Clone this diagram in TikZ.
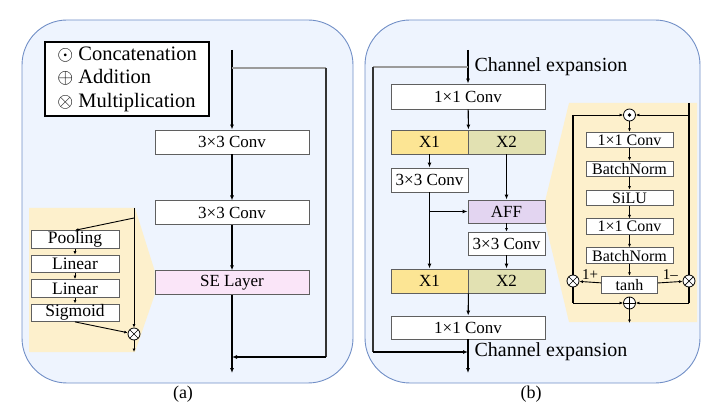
\RequirePackage{fix-cm}
\documentclass[tikz,border=0pt]{standalone}
\usepackage{fontspec}
\setmainfont{Liberation Serif}
\usepackage{tikz}
\usetikzlibrary{positioning, calc, arrows.meta, backgrounds}

\definecolor{panelBlue}{RGB}{238,244,254}
\definecolor{panelEdge}{RGB}{112,142,198}
\definecolor{detailTan}{RGB}{253,240,204}
\definecolor{sePink}{RGB}{250,229,248}
\definecolor{xOneYellow}{RGB}{252,229,148}
\definecolor{xTwoOlive}{RGB}{226,225,178}
\definecolor{affViolet}{RGB}{227,213,241}
\definecolor{boxEdge}{RGB}{95,95,95}
\definecolor{skipGray}{RGB}{155,155,155}

\begin{document}
\begin{tikzpicture}[
    x=1pt, y=-1pt,
    line width=1.1pt,
    >={Latex[length=5pt,width=4pt]},
    panel/.style={draw=panelEdge, fill=panelBlue, line width=0.9pt, rounded corners=45pt},
    block/.style={rectangle, draw=boxEdge, fill=white, line width=0.9pt, inner sep=0pt,
                  minimum width=154pt, minimum height=24pt, font=\fontsize{17}{19}\selectfont},
    halfblock/.style={block, minimum width=77pt},
    sebox/.style={block, minimum width=88pt, minimum height=17.5pt, font=\fontsize{17.5}{19}\selectfont},
    affbox/.style={block, minimum width=87pt, minimum height=15.5pt, font=\fontsize{16}{17}\selectfont},
    opnode/.style={circle, draw, fill=white, line width=0.8pt, minimum size=12pt, inner sep=0pt},
    mulop/.style={opnode, path picture={\draw[line width=0.7pt]
        (path picture bounding box.north west) -- (path picture bounding box.south east)
        (path picture bounding box.north east) -- (path picture bounding box.south west);}},
    addop/.style={opnode, path picture={\draw[line width=0.7pt]
        (path picture bounding box.north) -- (path picture bounding box.south)
        (path picture bounding box.west) -- (path picture bounding box.east);}},
    catop/.style={opnode, path picture={\fill[black] (path picture bounding box.center) circle (1.8pt);}},
    sarr/.style={-{Latex[length=3.5pt,width=3pt]}, line width=0.9pt},
    note/.style={font=\fontsize{20}{22}\selectfont, inner sep=0pt}
  ]
    \useasboundingbox (0,0) rectangle (705,409);

    % ---------- (a) ----------
    \node[draw, line width=1.6pt, fill=white, minimum width=164pt, minimum height=74pt,
          align=left, font=\fontsize{20.5}{23.5}\selectfont] (legend) at (127,79)
      {$\odot$ Concatenation\\ $\oplus$ Addition\\ $\otimes$ Multiplication};

    \node[block] (aConvA) at (232,142) {3×3 Conv};
    \node[block, below=46pt of aConvA] (aConvB) {3×3 Conv};
    \node[block, fill=sePink, below=45pt of aConvB] (aSE) {SE Layer};

    \coordinate (aIn) at (232,50);
    \coordinate (aTap) at (232,68);
    \coordinate (aR1) at (326,68);
    \coordinate (aR2) at (326,357);
    \coordinate (aJoin) at (232,357);
    \coordinate (aOut) at (232,373);

    \draw[->] (aIn) -- (aConvA);
    \draw[->] (aConvA) -- (aConvB);
    \draw[->] (aConvB) -- (aSE);
    \draw[->] (aSE) -- (aOut);
    \draw[skipGray] (aTap) -- (aR1);
    \draw[black!80] (aR1) -- (aR2);
    \draw[->] (aR2) -- (aJoin);

    % SE layer detail
    \node[sebox] (pool) at (75,239.5) {Pooling};
    \node[sebox, below=6pt of pool] (linA) {Linear};
    \node[sebox, below=6pt of linA] (linB) {Linear};
    \node[sebox, below=6pt of linB] (sig) {Sigmoid};
    \node[mulop] (seMul) at (134,334) {};
    \coordinate (seTop) at (134,208);
    \coordinate (seTap) at (134,218);
    \coordinate (seOut) at (134,352);

    \draw[sarr] (seTop) -- (seMul);
    \draw[sarr] (seTap) -- (pool.north);
    \draw[sarr] (pool) -- (linA);
    \draw[sarr] (linA) -- (linB);
    \draw[sarr] (linB) -- (sig);
    \draw[sarr] (sig.south) -- (seMul);
    \draw[sarr] (seMul) -- (seOut);

    \node[font=\fontsize{18}{20}\selectfont] (capA) at (183,394) {(a)};

    % ---------- (b) ----------
    \node[block, minimum height=25pt] (bConvIn) at (468,96.5) {1×1 Conv};
    \node[halfblock, fill=xOneYellow] (bXOneA) at (429.5,142) {X1};
    \node[halfblock, fill=xTwoOlive] (bXTwoA) at (506.5,142) {X2};
    \node[halfblock] (bConvX) at (429.5,180) {3×3 Conv};
    \node[halfblock, fill=affViolet, minimum height=23pt] (bAFF) at (506.5,211.5) {AFF};
    \node[halfblock, minimum height=23pt] (bConvY) at (506.5,243.5) {3×3 Conv};
    \node[halfblock, fill=xOneYellow] (bXOneB) at (429.5,281) {X1};
    \node[halfblock, fill=xTwoOlive] (bXTwoB) at (506.5,281) {X2};
    \node[block, minimum height=23pt] (bConvOut) at (468,327.5) {1×1 Conv};

    \coordinate (bIn) at (468,50);
    \coordinate (bTap) at (468,67);
    \coordinate (bL1) at (373,67);
    \coordinate (bL2) at (373,352);
    \coordinate (bJoin) at (468,352);
    \coordinate (bOut) at (468,373);
    \coordinate (bFork) at (bConvX.south |- bAFF.west);

    \node[note, anchor=west] (bExpIn) at (474,67) {Channel expansion};
    \node[note, anchor=west] (bExpOut) at (474,352) {Channel expansion};

    \draw[->] (bIn) -- (bConvIn);
    \draw[->] (bConvIn) -- (bXOneA.north east);
    \draw[->] (bXOneA) -- (bConvX);
    \draw[->] (bXTwoA) -- (bAFF);
    \draw[->] (bConvX) -- (bXOneB);
    \draw[->] (bFork) -- (bAFF.west);
    \draw[sarr] (bAFF) -- (bConvY);
    \draw[->] (bConvY) -- (bXTwoB);
    \draw[->] (bXOneB.south east) -- (bConvOut);
    \draw[->] (bConvOut) -- (bOut);
    \draw[skipGray] (bTap) -- (bL1);
    \draw[black!80] (bL1) -- (bL2);
    \draw[->] (bL2) -- (bJoin);

    % AFF detail
    \node[catop] (fCat) at (629.5,115) {};
    \node[affbox] (fConvA) at (629.5,140) {1×1 Conv};
    \node[affbox, below=12.5pt of fConvA] (fNormA) {BatchNorm};
    \node[affbox, below=12.5pt of fNormA] (fSiLU) {SiLU};
    \node[affbox, below=12.5pt of fSiLU] (fConvB) {1×1 Conv};
    \node[affbox, below=12.5pt of fConvB] (fNormB) {BatchNorm};
    \node[affbox, minimum width=56pt, minimum height=17pt, below=12pt of fNormB] (fTanh) {tanh};
    \node[mulop] (fMulL) at (573,281) {};
    \node[mulop] (fMulR) at (689,281) {};
    \node[addop] (fAdd) at (629.5,303) {};

    \coordinate (fTL) at (573,115);
    \coordinate (fTR) at (689,115);
    \coordinate (fTopR) at (689,103);
    \coordinate (fBL) at (573,303);
    \coordinate (fBR) at (689,303);
    \coordinate (fOut) at (629.5,323);

    \draw[sarr] (fTL) -- (fCat);
    \draw[sarr] (fTR) -- (fCat);
    \draw (fTL) -- (fMulL);
    \draw (fTopR) -- (fMulR);
    \draw (fMulL) -- (fBL);
    \draw (fMulR) -- (fBR);
    \draw[sarr] (fBL) -- (fAdd);
    \draw[sarr] (fBR) -- (fAdd);
    \draw[sarr] (fAdd) -- (fOut);
    \draw[sarr] (fCat) -- (fConvA);
    \draw[sarr] (fConvA) -- (fNormA);
    \draw[sarr] (fNormA) -- (fSiLU);
    \draw[sarr] (fSiLU) -- (fConvB);
    \draw[sarr] (fConvB) -- (fNormB);
    \draw[sarr] (fNormB) -- (fTanh);
    \draw[sarr] (fTanh) -- node[above=-1pt, font=\fontsize{15}{16}\selectfont] {1+} (fMulL);
    \draw[sarr] (fTanh) -- node[above=-1pt, font=\fontsize{15}{16}\selectfont] {1–} (fMulR);

    \node[font=\fontsize{18}{20}\selectfont] (capB) at (531,394) {(b)};

    % panels and detail backgrounds
    \begin{scope}[on background layer]
      \draw[panel] (22,20) rectangle (353,383);
      \draw[panel] (365,20) rectangle (700,383);
      \fill[detailTan] (29,208) -- (135,208) -- (aSE.north west) -- (aSE.south west)
        -- (135,352) -- (29,352) -- cycle;
      \fill[detailTan] (569,103) -- (697,103) -- (697,322) -- (569,322)
        -- (bAFF.south east) -- (bAFF.north east) -- cycle;
    \end{scope}
\end{tikzpicture}
\end{document}
